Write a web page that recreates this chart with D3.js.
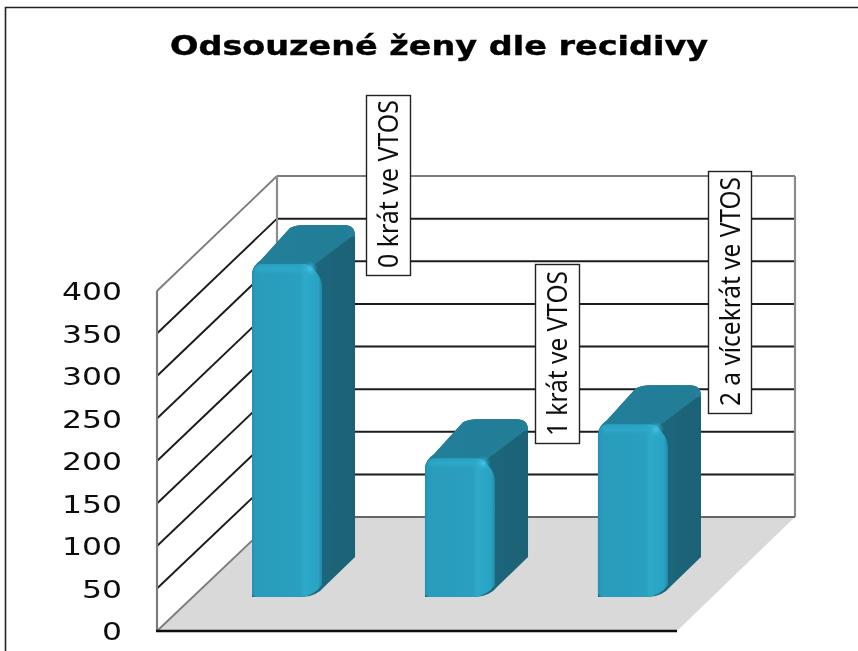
<!DOCTYPE html>
<html><head><meta charset="utf-8">
<script src="https://cdn.jsdelivr.net/npm/d3@7/dist/d3.min.js"></script>
<style>html,body{margin:0;padding:0;background:#fff;overflow:hidden}svg{display:block}</style>
</head><body><div id="chart"></div>
<script>
const chartTitle = "Odsouzené ženy dle recidivy";
const categories = ["0 krát ve VTOS", "1 krát ve VTOS", "2 a vícekrát ve VTOS"];
const values = [393, 165, 205];
const tickValues = [0, 50, 100, 150, 200, 250, 300, 350, 400];

const W = 858, H = 651;
const svgRoot = d3.select("#chart").append("svg").attr("width", W).attr("height", H);
const defs = svgRoot.append("defs");
defs.append("filter").attr("id", "soft").attr("filterUnits", "userSpaceOnUse").attr("x", 0).attr("y", 0).attr("width", W).attr("height", H)
  .append("feGaussianBlur").attr("stdDeviation", 0.45);
defs.append("filter").attr("id", "barSoft").attr("filterUnits", "userSpaceOnUse").attr("x", 0).attr("y", 0).attr("width", W).attr("height", H)
  .append("feGaussianBlur").attr("stdDeviation", 0.7);
defs.append("filter").attr("id", "rimSoft").attr("filterUnits", "userSpaceOnUse").attr("x", 0).attr("y", 0).attr("width", W).attr("height", H)
  .append("feGaussianBlur").attr("stdDeviation", 1.6);
const svg = svgRoot.append("g").attr("filter", "url(#soft)");

const frontGrad = defs.append("linearGradient").attr("id", "front");
[[0,"#2590b0"],[0.05,"#2a9bbb"],[0.68,"#2a9fbf"],[0.74,"#2ea9c9"],[0.94,"#2aa3c3"],[1,"#2488a6"]]
  .forEach(s => frontGrad.append("stop").attr("offset", s[0]).attr("stop-color", s[1]));
const sideGrad = defs.append("linearGradient").attr("id", "side");
[[0,"#1c6d84"],[1,"#1a6276"]].forEach(s => sideGrad.append("stop").attr("offset", s[0]).attr("stop-color", s[1]));
const glow = defs.append("radialGradient").attr("id", "glow");
[[0,"#45c4e6",1],[1,"#2ea9c9",0]].forEach(s => glow.append("stop").attr("offset", s[0]).attr("stop-color", s[1]).attr("stop-opacity", s[2]));
const topGrad = defs.append("linearGradient").attr("id", "topf").attr("x1",0).attr("x2",1);
[[0,"#217f9a"],[0.8,"#217d97"],[1,"#267f98"]].forEach(s => topGrad.append("stop").attr("offset", s[0]).attr("stop-color", s[1]));

// plot geometry
const front = {x0: 157, x1: 677, y0: 631};
const depth = {dx: 120, dy: 114.5};
const wallY = d3.scaleLinear().domain([0, 400]).range([517, 176]);
const sideY = d3.scaleLinear().domain([0, 400]).range([631, 291]);
const barY = d3.scaleLinear().domain([0, 400]).range([597, 256]);
const barX = d3.scaleBand().domain(categories).range([252, 668]).paddingInner(0.595).paddingOuter(0);
const backX0 = front.x0 + depth.dx, backX1 = front.x1 + depth.dx - 2;
const ink = "#1a1a1a", edge = "#7c7c7c";

// frame
svg.append("path").attr("d", `M5.5,${H}V7.5H${W}`).attr("fill", "none").attr("stroke", "#222").attr("stroke-width", 1.6);

// floor
svg.append("path")
  .attr("d", `M${front.x0},${front.y0}L${backX0},${wallY(0)}L${backX1},${wallY(0)}L${front.x1},${front.y0}Z`)
  .attr("fill", "#d9d9d9");

// walls' gridlines
const grid = svg.append("g").attr("fill", "none");
grid.selectAll(".wall").data(tickValues.filter(t => t > 0)).join("line").attr("class", "wall")
  .attr("x1", backX0).attr("x2", backX1).attr("y1", d => wallY(d)).attr("y2", d => wallY(d))
  .attr("stroke", d => d === 400 ? edge : ink).attr("stroke-width", 2);
grid.selectAll(".side").data(tickValues.filter(t => t > 0)).join("line").attr("class", "side")
  .attr("x1", front.x0).attr("x2", backX0).attr("y1", d => sideY(d)).attr("y2", d => wallY(d))
  .attr("stroke", d => d === 400 ? edge : ink).attr("stroke-width", 1.9);
grid.append("line").attr("x1", front.x0).attr("x2", backX0).attr("y1", sideY(0)).attr("y2", wallY(0)).attr("stroke", edge).attr("stroke-width", 1.9);
grid.append("line").attr("x1", backX0).attr("x2", backX0).attr("y1", wallY(400)).attr("y2", wallY(0)).attr("stroke", "#8c8c8c").attr("stroke-width", 2.2);
grid.append("line").attr("x1", backX1).attr("x2", backX1).attr("y1", wallY(400)).attr("y2", wallY(0)).attr("stroke", "#8c8c8c").attr("stroke-width", 2.2);
grid.append("line").attr("x1", backX0).attr("x2", backX1).attr("y1", wallY(0)).attr("y2", wallY(0)).attr("stroke", "#666").attr("stroke-width", 2);
grid.append("line").attr("x1", front.x0).attr("x2", front.x0).attr("y1", sideY(400)).attr("y2", front.y0).attr("stroke", edge).attr("stroke-width", 2.2);
svg.append("line").attr("x1", front.x0 - 1).attr("x2", front.x1).attr("y1", front.y0).attr("y2", front.y0).attr("stroke", "#111").attr("stroke-width", 2.4);

// bars
const bdx = 33, bdy = 37;
const bars = svg.selectAll(".bar").data(categories.map((c, i) => ({c, v: values[i]}))).join("g").attr("class", "bar").attr("filter", "url(#barSoft)");
bars.each(function(d) {
  const g = d3.select(this);
  const L = barX(d.c), R = L + barX.bandwidth(), T = barY(d.v), B = barY(0);
  const outline = `M${L},${T+13}Q${L},${T+4} ${L+9},${T-2}L${L+38},${T-bdy+3}Q${L+44},${T-bdy} ${L+52},${T-bdy}H${R+bdx-11}Q${R+bdx},${T-bdy} ${R+bdx},${T-bdy+11}`;
  // silhouette / side face
  g.append("path").attr("fill", "url(#side)")
    .attr("d", `${outline}V${B-40}L${R+3},${B-11}Q${R-6},${B} ${R-20},${B}H${L}Z`);
  // top face
  g.append("path").attr("fill", "url(#topf)")
    .attr("d", `${outline}L${R+bdx-4},${T-bdy+12}L${R-12},${T+6}Z`);
  // front face
  g.append("path").attr("fill", "url(#front)")
    .attr("d", `M${L},${T+13}Q${L+1},${T+2} ${L+10},${T+2}H${R-18}Q${R-11},${T+2} ${R-7},${T+9}Q${R},${T+16} ${R},${T+26}V${B-12}Q${R-7},${B-2} ${R-20},${B}H${L+5}Q${L},${B} ${L},${B-5}Z`);
  g.append("path").attr("d", `M${L+5},${T+7}H${R-16}`).attr("stroke", "#2fa9c9").attr("stroke-width", 7).attr("fill", "none").attr("opacity", 0.8).attr("filter", "url(#rimSoft)");
  g.append("ellipse").attr("cx", R - 12).attr("cy", T + 7).attr("rx", 8).attr("ry", 8).attr("fill", "url(#glow)");
});

// value axis
const axis = d3.axisLeft(sideY).tickValues(tickValues).tickSize(0).tickPadding(0);
const axisG = svg.append("g").attr("transform", "translate(122,0)").call(axis);
axisG.select(".domain").remove();
axisG.selectAll("text")
  .attr("font-family", "'DejaVu Sans'").attr("font-size", 25).attr("fill", "#111")
  .attr("dy", "0.34em").attr("text-anchor", "end")
  .attr("textLength", d => String(d).length * 20).attr("lengthAdjust", "spacingAndGlyphs");

// category labels
const labelBoxes = [
  {x: 366, y: 95, w: 44, h: 180, len: 168},
  {x: 535, y: 264, w: 44, h: 179, len: 165},
  {x: 708, y: 171, w: 43, h: 242, len: 229}
];
const labels = svg.selectAll(".lab").data(categories).join("g").attr("class", "lab");
labels.append("rect")
  .attr("x", (d, i) => labelBoxes[i].x + .5).attr("y", (d, i) => labelBoxes[i].y + .5)
  .attr("width", (d, i) => labelBoxes[i].w).attr("height", (d, i) => labelBoxes[i].h)
  .attr("fill", "#fff").attr("stroke", "#222").attr("stroke-width", 1.4);
labels.append("text").text(d => d)
  .attr("transform", (d, i) => `translate(${labelBoxes[i].x + labelBoxes[i].w / 2 + 10},${labelBoxes[i].y + labelBoxes[i].h - 7}) rotate(-90)`)
  .attr("font-family", "'Noto Sans'").attr("font-size", 27).attr("fill", "#111")
  .attr("textLength", (d, i) => labelBoxes[i].len).attr("lengthAdjust", "spacingAndGlyphs");

// title
svg.append("text").text(chartTitle).attr("x", 170).attr("y", 55)
  .attr("font-family", "'DejaVu Sans'").attr("font-weight", 700).attr("font-size", 27).attr("fill", "#000")
  .attr("stroke", "#000").attr("stroke-width", 0.4)
  .attr("textLength", 538).attr("lengthAdjust", "spacingAndGlyphs");
</script></body></html>
